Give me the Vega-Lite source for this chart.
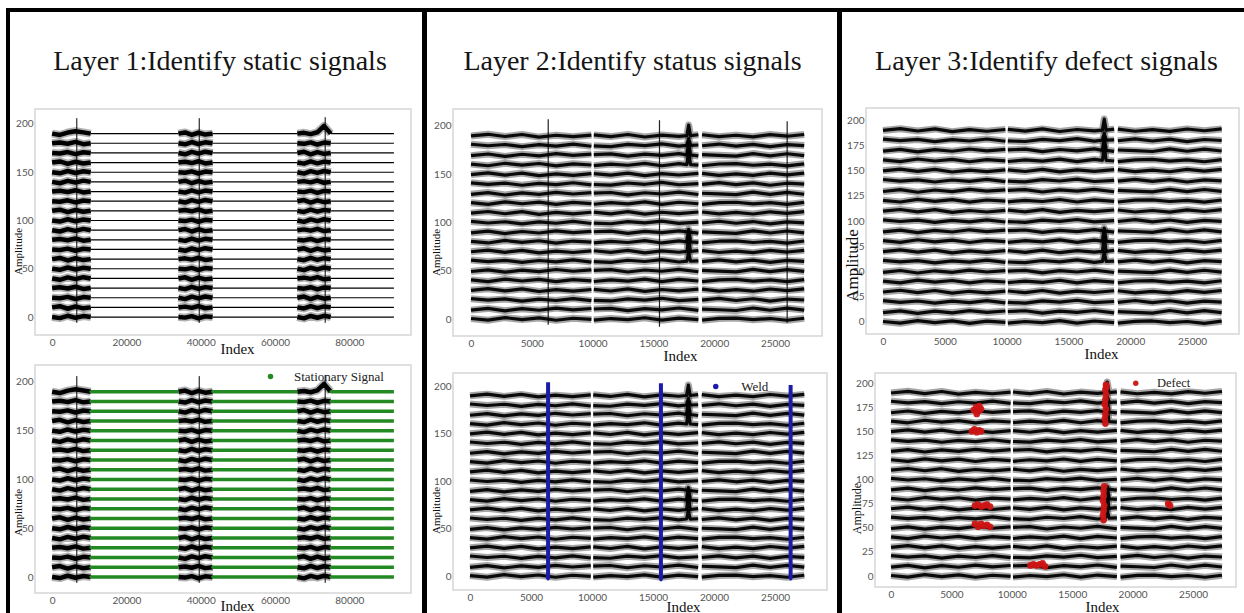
{
"$schema":"https://vega.github.io/schema/vega-lite/v6.json",
"padding":{"left":6,"top":8,"right":0,"bottom":0},
"background":"white",
"config":{
"view":{"stroke":"#d6d6d6","strokeWidth":1.5},
"axis":{"grid":false,"domain":false,"ticks":false,"labelFont":"Lato","labelFontSize":10,"labelColor":"#555555","labelPadding":2,"titleFont":"Liberation Serif","titleFontWeight":"normal","titleColor":"#111111"},
"axisX":{"titleFontSize":15,"titleBaseline":"top","titleAlign":"center"},
"axisY":{"titleFontSize":11,"titleAngle":270,"titleBaseline":"bottom","titleAlign":"center"}
},
"datasets":{
"one":[{}],
"Av":[{"x":6650,"y":-6,"y2":206},{"x":39600,"y":-6,"y2":206},{"x":73500,"y":-6,"y2":207}],
"Bv":[{"x":6350,"y":-6,"y2":207},{"x":15500,"y":-8,"y2":206},{"x":26000,"y":-4,"y2":205}],
"Bw":[{"x":6400,"y":-3,"y2":204},{"x":15650,"y":-4,"y2":203},{"x":26280,"y":-3,"y2":201}],
"D":[{"x":6850,"y":172},{"x":7050,"y":175},{"x":7250,"y":171},{"x":7450,"y":173},{"x":7100,"y":168},{"x":7300,"y":176},
{"x":6700,"y":150},{"x":6900,"y":152},{"x":7100,"y":149},{"x":7300,"y":151},{"x":7450,"y":150},
{"x":6950,"y":73},{"x":7200,"y":74},{"x":7450,"y":72},{"x":7700,"y":73},{"x":7950,"y":74},{"x":8200,"y":72},
{"x":6950,"y":54},{"x":7200,"y":51},{"x":7450,"y":54},{"x":7700,"y":52},{"x":7950,"y":53},{"x":8200,"y":51},
{"x":11550,"y":11},{"x":11800,"y":12},{"x":12050,"y":11},{"x":12300,"y":12},{"x":12550,"y":13},{"x":12750,"y":10},
{"x":17750,"y":158},{"x":17700,"y":163},{"x":17750,"y":168},{"x":17800,"y":173},{"x":17700,"y":178},{"x":17750,"y":183},{"x":17800,"y":188},{"x":17750,"y":193},{"x":17800,"y":198},{"x":17850,"y":196},
{"x":17600,"y":58},{"x":17550,"y":63},{"x":17600,"y":68},{"x":17650,"y":73},{"x":17550,"y":78},{"x":17600,"y":83},{"x":17600,"y":88},{"x":17650,"y":93},
{"x":22950,"y":75},{"x":23100,"y":73}],
"Af":[
{"x":10400,"x2":34000,"y":0},{"x":43200,"x2":66000,"y":0},{"x":75000,"x2":92000,"y":0},
{"x":10400,"x2":34000,"y":10},{"x":43200,"x2":66000,"y":10},{"x":75000,"x2":92000,"y":10},
{"x":10400,"x2":34000,"y":20},{"x":43200,"x2":66000,"y":20},{"x":75000,"x2":92000,"y":20},
{"x":10400,"x2":34000,"y":30},{"x":43200,"x2":66000,"y":30},{"x":75000,"x2":92000,"y":30},
{"x":10400,"x2":34000,"y":40},{"x":43200,"x2":66000,"y":40},{"x":75000,"x2":92000,"y":40},
{"x":10400,"x2":34000,"y":50},{"x":43200,"x2":66000,"y":50},{"x":75000,"x2":92000,"y":50},
{"x":10400,"x2":34000,"y":60},{"x":43200,"x2":66000,"y":60},{"x":75000,"x2":92000,"y":60},
{"x":10400,"x2":34000,"y":70},{"x":43200,"x2":66000,"y":70},{"x":75000,"x2":92000,"y":70},
{"x":10400,"x2":34000,"y":80},{"x":43200,"x2":66000,"y":80},{"x":75000,"x2":92000,"y":80},
{"x":10400,"x2":34000,"y":90},{"x":43200,"x2":66000,"y":90},{"x":75000,"x2":92000,"y":90},
{"x":10400,"x2":34000,"y":100},{"x":43200,"x2":66000,"y":100},{"x":75000,"x2":92000,"y":100},
{"x":10400,"x2":34000,"y":110},{"x":43200,"x2":66000,"y":110},{"x":75000,"x2":92000,"y":110},
{"x":10400,"x2":34000,"y":120},{"x":43200,"x2":66000,"y":120},{"x":75000,"x2":92000,"y":120},
{"x":10400,"x2":34000,"y":130},{"x":43200,"x2":66000,"y":130},{"x":75000,"x2":92000,"y":130},
{"x":10400,"x2":34000,"y":140},{"x":43200,"x2":66000,"y":140},{"x":75000,"x2":92000,"y":140},
{"x":10400,"x2":34000,"y":150},{"x":43200,"x2":66000,"y":150},{"x":75000,"x2":92000,"y":150},
{"x":10400,"x2":34000,"y":160},{"x":43200,"x2":66000,"y":160},{"x":75000,"x2":92000,"y":160},
{"x":10400,"x2":34000,"y":170},{"x":43200,"x2":66000,"y":170},{"x":75000,"x2":92000,"y":170},
{"x":10400,"x2":34000,"y":180},{"x":43200,"x2":66000,"y":180},{"x":75000,"x2":92000,"y":180},
{"x":10400,"x2":34000,"y":190},{"x":43200,"x2":66000,"y":190},{"x":75000,"x2":92000,"y":190}],
"A":[
{"k":"0a","x":0,"y":0},{"k":"0a","x":2100,"y":-1.1},{"k":"0a","x":4200,"y":1.3},{"k":"0a","x":6300,"y":-0.8},{"k":"0a","x":8400,"y":1},{"k":"0a","x":10400,"y":0},
{"k":"0b","x":34000,"y":0},{"k":"0b","x":35800,"y":-0.6},{"k":"0b","x":37600,"y":0.9},{"k":"0b","x":39400,"y":-1.3},{"k":"0b","x":41200,"y":0.7},{"k":"0b","x":43200,"y":0},
{"k":"0c","x":66000,"y":0},{"k":"0c","x":67800,"y":-1.4},{"k":"0c","x":69600,"y":1.1},{"k":"0c","x":71400,"y":-0.7},{"k":"0c","x":73200,"y":1.3},{"k":"0c","x":75000,"y":0},
{"k":"1a","x":0,"y":10},{"k":"1a","x":2100,"y":11.2},{"k":"1a","x":4200,"y":8.6},{"k":"1a","x":6300,"y":10.9},{"k":"1a","x":8400,"y":9},{"k":"1a","x":10400,"y":10},
{"k":"1b","x":34000,"y":10},{"k":"1b","x":35800,"y":10.8},{"k":"1b","x":37600,"y":9.5},{"k":"1b","x":39400,"y":11.4},{"k":"1b","x":41200,"y":9.1},{"k":"1b","x":43200,"y":10},
{"k":"1c","x":66000,"y":10},{"k":"1c","x":67800,"y":8.9},{"k":"1c","x":69600,"y":11.3},{"k":"1c","x":71400,"y":9.2},{"k":"1c","x":73200,"y":11},{"k":"1c","x":75000,"y":10},
{"k":"2a","x":0,"y":20},{"k":"2a","x":2100,"y":19.4},{"k":"2a","x":4200,"y":20.9},{"k":"2a","x":6300,"y":18.7},{"k":"2a","x":8400,"y":20.7},{"k":"2a","x":10400,"y":20},
{"k":"2b","x":34000,"y":20},{"k":"2b","x":35800,"y":18.6},{"k":"2b","x":37600,"y":21.1},{"k":"2b","x":39400,"y":19.3},{"k":"2b","x":41200,"y":21.3},{"k":"2b","x":43200,"y":20},
{"k":"2c","x":66000,"y":20},{"k":"2c","x":67800,"y":21.2},{"k":"2c","x":69600,"y":18.6},{"k":"2c","x":71400,"y":20.9},{"k":"2c","x":73200,"y":19},{"k":"2c","x":75000,"y":20},
{"k":"3a","x":0,"y":30},{"k":"3a","x":2100,"y":30.8},{"k":"3a","x":4200,"y":29.5},{"k":"3a","x":6300,"y":31.4},{"k":"3a","x":8400,"y":29.1},{"k":"3a","x":10400,"y":30},
{"k":"3b","x":34000,"y":30},{"k":"3b","x":35800,"y":28.9},{"k":"3b","x":37600,"y":31.3},{"k":"3b","x":39400,"y":29.2},{"k":"3b","x":41200,"y":31},{"k":"3b","x":43200,"y":30},
{"k":"3c","x":66000,"y":30},{"k":"3c","x":67800,"y":29.4},{"k":"3c","x":69600,"y":30.9},{"k":"3c","x":71400,"y":28.7},{"k":"3c","x":73200,"y":30.7},{"k":"3c","x":75000,"y":30},
{"k":"4a","x":0,"y":40},{"k":"4a","x":2100,"y":38.6},{"k":"4a","x":4200,"y":41.1},{"k":"4a","x":6300,"y":39.3},{"k":"4a","x":8400,"y":41.3},{"k":"4a","x":10400,"y":40},
{"k":"4b","x":34000,"y":40},{"k":"4b","x":35800,"y":41.2},{"k":"4b","x":37600,"y":38.6},{"k":"4b","x":39400,"y":40.9},{"k":"4b","x":41200,"y":39},{"k":"4b","x":43200,"y":40},
{"k":"4c","x":66000,"y":40},{"k":"4c","x":67800,"y":40.8},{"k":"4c","x":69600,"y":39.5},{"k":"4c","x":71400,"y":41.4},{"k":"4c","x":73200,"y":39.1},{"k":"4c","x":75000,"y":40},
{"k":"5a","x":0,"y":50},{"k":"5a","x":2100,"y":48.9},{"k":"5a","x":4200,"y":51.3},{"k":"5a","x":6300,"y":49.2},{"k":"5a","x":8400,"y":51},{"k":"5a","x":10400,"y":50},
{"k":"5b","x":34000,"y":50},{"k":"5b","x":35800,"y":49.4},{"k":"5b","x":37600,"y":50.9},{"k":"5b","x":39400,"y":48.7},{"k":"5b","x":41200,"y":50.7},{"k":"5b","x":43200,"y":50},
{"k":"5c","x":66000,"y":50},{"k":"5c","x":67800,"y":48.6},{"k":"5c","x":69600,"y":51.1},{"k":"5c","x":71400,"y":49.3},{"k":"5c","x":73200,"y":51.3},{"k":"5c","x":75000,"y":50},
{"k":"6a","x":0,"y":60},{"k":"6a","x":2100,"y":61.2},{"k":"6a","x":4200,"y":58.6},{"k":"6a","x":6300,"y":60.9},{"k":"6a","x":8400,"y":59},{"k":"6a","x":10400,"y":60},
{"k":"6b","x":34000,"y":60},{"k":"6b","x":35800,"y":60.8},{"k":"6b","x":37600,"y":59.5},{"k":"6b","x":39400,"y":61.4},{"k":"6b","x":41200,"y":59.1},{"k":"6b","x":43200,"y":60},
{"k":"6c","x":66000,"y":60},{"k":"6c","x":67800,"y":58.9},{"k":"6c","x":69600,"y":61.3},{"k":"6c","x":71400,"y":59.2},{"k":"6c","x":73200,"y":61},{"k":"6c","x":75000,"y":60},
{"k":"7a","x":0,"y":70},{"k":"7a","x":2100,"y":69.4},{"k":"7a","x":4200,"y":70.9},{"k":"7a","x":6300,"y":68.7},{"k":"7a","x":8400,"y":70.7},{"k":"7a","x":10400,"y":70},
{"k":"7b","x":34000,"y":70},{"k":"7b","x":35800,"y":68.6},{"k":"7b","x":37600,"y":71.1},{"k":"7b","x":39400,"y":69.3},{"k":"7b","x":41200,"y":71.3},{"k":"7b","x":43200,"y":70},
{"k":"7c","x":66000,"y":70},{"k":"7c","x":67800,"y":71.2},{"k":"7c","x":69600,"y":68.6},{"k":"7c","x":71400,"y":70.9},{"k":"7c","x":73200,"y":69},{"k":"7c","x":75000,"y":70},
{"k":"8a","x":0,"y":80},{"k":"8a","x":2100,"y":80.8},{"k":"8a","x":4200,"y":79.5},{"k":"8a","x":6300,"y":81.4},{"k":"8a","x":8400,"y":79.1},{"k":"8a","x":10400,"y":80},
{"k":"8b","x":34000,"y":80},{"k":"8b","x":35800,"y":78.9},{"k":"8b","x":37600,"y":81.3},{"k":"8b","x":39400,"y":79.2},{"k":"8b","x":41200,"y":81},{"k":"8b","x":43200,"y":80},
{"k":"8c","x":66000,"y":80},{"k":"8c","x":67800,"y":79.4},{"k":"8c","x":69600,"y":80.9},{"k":"8c","x":71400,"y":78.7},{"k":"8c","x":73200,"y":80.7},{"k":"8c","x":75000,"y":80},
{"k":"9a","x":0,"y":90},{"k":"9a","x":2100,"y":88.6},{"k":"9a","x":4200,"y":91.1},{"k":"9a","x":6300,"y":89.3},{"k":"9a","x":8400,"y":91.3},{"k":"9a","x":10400,"y":90},
{"k":"9b","x":34000,"y":90},{"k":"9b","x":35800,"y":91.2},{"k":"9b","x":37600,"y":88.6},{"k":"9b","x":39400,"y":90.9},{"k":"9b","x":41200,"y":89},{"k":"9b","x":43200,"y":90},
{"k":"9c","x":66000,"y":90},{"k":"9c","x":67800,"y":90.8},{"k":"9c","x":69600,"y":89.5},{"k":"9c","x":71400,"y":91.4},{"k":"9c","x":73200,"y":89.1},{"k":"9c","x":75000,"y":90},
{"k":"10a","x":0,"y":100},{"k":"10a","x":2100,"y":98.9},{"k":"10a","x":4200,"y":101.3},{"k":"10a","x":6300,"y":99.2},{"k":"10a","x":8400,"y":101},{"k":"10a","x":10400,"y":100},
{"k":"10b","x":34000,"y":100},{"k":"10b","x":35800,"y":99.4},{"k":"10b","x":37600,"y":100.9},{"k":"10b","x":39400,"y":98.7},{"k":"10b","x":41200,"y":100.7},{"k":"10b","x":43200,"y":100},
{"k":"10c","x":66000,"y":100},{"k":"10c","x":67800,"y":98.6},{"k":"10c","x":69600,"y":101.1},{"k":"10c","x":71400,"y":99.3},{"k":"10c","x":73200,"y":101.3},{"k":"10c","x":75000,"y":100},
{"k":"11a","x":0,"y":110},{"k":"11a","x":2100,"y":111.2},{"k":"11a","x":4200,"y":108.6},{"k":"11a","x":6300,"y":110.9},{"k":"11a","x":8400,"y":109},{"k":"11a","x":10400,"y":110},
{"k":"11b","x":34000,"y":110},{"k":"11b","x":35800,"y":110.8},{"k":"11b","x":37600,"y":109.5},{"k":"11b","x":39400,"y":111.4},{"k":"11b","x":41200,"y":109.1},{"k":"11b","x":43200,"y":110},
{"k":"11c","x":66000,"y":110},{"k":"11c","x":67800,"y":108.9},{"k":"11c","x":69600,"y":111.3},{"k":"11c","x":71400,"y":109.2},{"k":"11c","x":73200,"y":111},{"k":"11c","x":75000,"y":110},
{"k":"12a","x":0,"y":120},{"k":"12a","x":2100,"y":119.4},{"k":"12a","x":4200,"y":120.9},{"k":"12a","x":6300,"y":118.7},{"k":"12a","x":8400,"y":120.7},{"k":"12a","x":10400,"y":120},
{"k":"12b","x":34000,"y":120},{"k":"12b","x":35800,"y":118.6},{"k":"12b","x":37600,"y":121.1},{"k":"12b","x":39400,"y":119.3},{"k":"12b","x":41200,"y":121.3},{"k":"12b","x":43200,"y":120},
{"k":"12c","x":66000,"y":120},{"k":"12c","x":67800,"y":121.2},{"k":"12c","x":69600,"y":118.6},{"k":"12c","x":71400,"y":120.9},{"k":"12c","x":73200,"y":119},{"k":"12c","x":75000,"y":120},
{"k":"13a","x":0,"y":130},{"k":"13a","x":2100,"y":130.8},{"k":"13a","x":4200,"y":129.5},{"k":"13a","x":6300,"y":131.4},{"k":"13a","x":8400,"y":129.1},{"k":"13a","x":10400,"y":130},
{"k":"13b","x":34000,"y":130},{"k":"13b","x":35800,"y":128.9},{"k":"13b","x":37600,"y":131.3},{"k":"13b","x":39400,"y":129.2},{"k":"13b","x":41200,"y":131},{"k":"13b","x":43200,"y":130},
{"k":"13c","x":66000,"y":130},{"k":"13c","x":67800,"y":129.4},{"k":"13c","x":69600,"y":130.9},{"k":"13c","x":71400,"y":128.7},{"k":"13c","x":73200,"y":130.7},{"k":"13c","x":75000,"y":130},
{"k":"14a","x":0,"y":140},{"k":"14a","x":2100,"y":138.6},{"k":"14a","x":4200,"y":141.1},{"k":"14a","x":6300,"y":139.3},{"k":"14a","x":8400,"y":141.3},{"k":"14a","x":10400,"y":140},
{"k":"14b","x":34000,"y":140},{"k":"14b","x":35800,"y":141.2},{"k":"14b","x":37600,"y":138.6},{"k":"14b","x":39400,"y":140.9},{"k":"14b","x":41200,"y":139},{"k":"14b","x":43200,"y":140},
{"k":"14c","x":66000,"y":140},{"k":"14c","x":67800,"y":140.8},{"k":"14c","x":69600,"y":139.5},{"k":"14c","x":71400,"y":141.4},{"k":"14c","x":73200,"y":139.1},{"k":"14c","x":75000,"y":140},
{"k":"15a","x":0,"y":150},{"k":"15a","x":2100,"y":148.9},{"k":"15a","x":4200,"y":151.3},{"k":"15a","x":6300,"y":149.2},{"k":"15a","x":8400,"y":151},{"k":"15a","x":10400,"y":150},
{"k":"15b","x":34000,"y":150},{"k":"15b","x":35800,"y":149.4},{"k":"15b","x":37600,"y":150.9},{"k":"15b","x":39400,"y":148.7},{"k":"15b","x":41200,"y":150.7},{"k":"15b","x":43200,"y":150},
{"k":"15c","x":66000,"y":150},{"k":"15c","x":67800,"y":148.6},{"k":"15c","x":69600,"y":151.1},{"k":"15c","x":71400,"y":149.3},{"k":"15c","x":73200,"y":151.3},{"k":"15c","x":75000,"y":150},
{"k":"16a","x":0,"y":160},{"k":"16a","x":2100,"y":161.2},{"k":"16a","x":4200,"y":158.6},{"k":"16a","x":6300,"y":160.9},{"k":"16a","x":8400,"y":159},{"k":"16a","x":10400,"y":160},
{"k":"16b","x":34000,"y":160},{"k":"16b","x":35800,"y":160.8},{"k":"16b","x":37600,"y":159.5},{"k":"16b","x":39400,"y":161.4},{"k":"16b","x":41200,"y":159.1},{"k":"16b","x":43200,"y":160},
{"k":"16c","x":66000,"y":160},{"k":"16c","x":67800,"y":158.9},{"k":"16c","x":69600,"y":161.3},{"k":"16c","x":71400,"y":159.2},{"k":"16c","x":73200,"y":161},{"k":"16c","x":75000,"y":160},
{"k":"17a","x":0,"y":170},{"k":"17a","x":2100,"y":169.4},{"k":"17a","x":4200,"y":170.9},{"k":"17a","x":6300,"y":168.7},{"k":"17a","x":8400,"y":170.7},{"k":"17a","x":10400,"y":170},
{"k":"17b","x":34000,"y":170},{"k":"17b","x":35800,"y":168.6},{"k":"17b","x":37600,"y":171.1},{"k":"17b","x":39400,"y":169.3},{"k":"17b","x":41200,"y":171.3},{"k":"17b","x":43200,"y":170},
{"k":"17c","x":66000,"y":170},{"k":"17c","x":67800,"y":171.2},{"k":"17c","x":69600,"y":168.6},{"k":"17c","x":71400,"y":170.9},{"k":"17c","x":73200,"y":169},{"k":"17c","x":75000,"y":170},
{"k":"18a","x":0,"y":180},{"k":"18a","x":2100,"y":180.8},{"k":"18a","x":4200,"y":179.5},{"k":"18a","x":6300,"y":181.4},{"k":"18a","x":8400,"y":179.1},{"k":"18a","x":10400,"y":180},
{"k":"18b","x":34000,"y":180},{"k":"18b","x":35800,"y":178.9},{"k":"18b","x":37600,"y":181.3},{"k":"18b","x":39400,"y":179.2},{"k":"18b","x":41200,"y":181},{"k":"18b","x":43200,"y":180},
{"k":"18c","x":66000,"y":180},{"k":"18c","x":67800,"y":179.4},{"k":"18c","x":69600,"y":180.9},{"k":"18c","x":71400,"y":178.7},{"k":"18c","x":73200,"y":180.7},{"k":"18c","x":75000,"y":180},
{"k":"19a","x":0,"y":190},{"k":"19a","x":2100,"y":188.6},{"k":"19a","x":4200,"y":191.1},{"k":"19a","x":6300,"y":192.5},{"k":"19a","x":8400,"y":191.3},{"k":"19a","x":10400,"y":190},
{"k":"19b","x":34000,"y":190},{"k":"19b","x":35800,"y":191.2},{"k":"19b","x":37600,"y":188.6},{"k":"19b","x":39400,"y":190.9},{"k":"19b","x":41200,"y":189},{"k":"19b","x":43200,"y":190},
{"k":"19c","x":66000,"y":190},{"k":"19c","x":67800,"y":190.8},{"k":"19c","x":69600,"y":189.5},{"k":"19c","x":71400,"y":191.4},{"k":"19c","x":73200,"y":198},{"k":"19c","x":75000,"y":190}],
"B":[
{"k":"0a","x":0,"y":0.5},{"k":"0a","x":1400,"y":-1.2},{"k":"0a","x":2800,"y":1.4},{"k":"0a","x":4200,"y":-0.6},{"k":"0a","x":5600,"y":1.1},{"k":"0a","x":7000,"y":-1.3},{"k":"0a","x":8400,"y":0.8},{"k":"0a","x":9900,"y":-0.4},
{"k":"0b","x":10100,"y":-1.1},{"k":"0b","x":11500,"y":0.5},{"k":"0b","x":12900,"y":-0.7},{"k":"0b","x":14300,"y":1.3},{"k":"0b","x":15700,"y":-1.2},{"k":"0b","x":17100,"y":1},{"k":"0b","x":18700,"y":-0.6},
{"k":"0c","x":19000,"y":-1.2},{"k":"0c","x":20400,"y":0.6},{"k":"0c","x":21800,"y":1},{"k":"0c","x":23200,"y":-0.7},{"k":"0c","x":24600,"y":0.5},{"k":"0c","x":26000,"y":-1.3},{"k":"0c","x":27400,"y":0.8},
{"k":"1a","x":0,"y":9.2},{"k":"1a","x":1400,"y":11},{"k":"1a","x":2800,"y":8.5},{"k":"1a","x":4200,"y":10.7},{"k":"1a","x":5600,"y":9.1},{"k":"1a","x":7000,"y":11.3},{"k":"1a","x":8400,"y":9.5},{"k":"1a","x":9900,"y":10.9},
{"k":"1b","x":10100,"y":10.4},{"k":"1b","x":11500,"y":11.1},{"k":"1b","x":12900,"y":8.7},{"k":"1b","x":14300,"y":10.8},{"k":"1b","x":15700,"y":9.5},{"k":"1b","x":17100,"y":11.4},{"k":"1b","x":18700,"y":9},
{"k":"1c","x":19000,"y":10.3},{"k":"1c","x":20400,"y":9.6},{"k":"1c","x":21800,"y":8.8},{"k":"1c","x":23200,"y":11.4},{"k":"1c","x":24600,"y":9.1},{"k":"1c","x":26000,"y":11.2},{"k":"1c","x":27400,"y":9.3},
{"k":"2a","x":0,"y":21.1},{"k":"2a","x":1400,"y":19.5},{"k":"2a","x":2800,"y":20.8},{"k":"2a","x":4200,"y":18.6},{"k":"2a","x":5600,"y":20.6},{"k":"2a","x":7000,"y":19.2},{"k":"2a","x":8400,"y":21.2},{"k":"2a","x":9900,"y":19},
{"k":"2b","x":10100,"y":19.4},{"k":"2b","x":11500,"y":18.7},{"k":"2b","x":12900,"y":20.9},{"k":"2b","x":14300,"y":19.6},{"k":"2b","x":15700,"y":21.5},{"k":"2b","x":17100,"y":19.1},{"k":"2b","x":18700,"y":20.3},
{"k":"2c","x":19000,"y":19.5},{"k":"2c","x":20400,"y":21.3},{"k":"2c","x":21800,"y":19.2},{"k":"2c","x":23200,"y":21},{"k":"2c","x":24600,"y":18.6},{"k":"2c","x":26000,"y":20.7},{"k":"2c","x":27400,"y":19.7},
{"k":"3a","x":0,"y":29.7},{"k":"3a","x":1400,"y":31.4},{"k":"3a","x":2800,"y":29.1},{"k":"3a","x":4200,"y":31.2},{"k":"3a","x":5600,"y":28.5},{"k":"3a","x":7000,"y":30.4},{"k":"3a","x":8400,"y":28.9},{"k":"3a","x":9900,"y":30.6},
{"k":"3b","x":10100,"y":30.7},{"k":"3b","x":11500,"y":29},{"k":"3b","x":12900,"y":31.2},{"k":"3b","x":14300,"y":28.6},{"k":"3b","x":15700,"y":30.6},{"k":"3b","x":17100,"y":29.2},{"k":"3b","x":18700,"y":30.9},
{"k":"3c","x":19000,"y":30.9},{"k":"3c","x":20400,"y":28.9},{"k":"3c","x":21800,"y":30.4},{"k":"3c","x":23200,"y":28.8},{"k":"3c","x":24600,"y":31.1},{"k":"3c","x":26000,"y":29.4},{"k":"3c","x":27400,"y":31.2},
{"k":"4a","x":0,"y":40.5},{"k":"4a","x":1400,"y":38.8},{"k":"4a","x":2800,"y":41.4},{"k":"4a","x":4200,"y":39.4},{"k":"4a","x":5600,"y":41.1},{"k":"4a","x":7000,"y":38.7},{"k":"4a","x":8400,"y":40.8},{"k":"4a","x":9900,"y":39.6},
{"k":"4b","x":10100,"y":38.9},{"k":"4b","x":11500,"y":40.5},{"k":"4b","x":12900,"y":39.3},{"k":"4b","x":14300,"y":41.3},{"k":"4b","x":15700,"y":38.8},{"k":"4b","x":17100,"y":41},{"k":"4b","x":18700,"y":39.4},
{"k":"4c","x":19000,"y":38.8},{"k":"4c","x":20400,"y":40.6},{"k":"4c","x":21800,"y":41},{"k":"4c","x":23200,"y":39.3},{"k":"4c","x":24600,"y":40.5},{"k":"4c","x":26000,"y":38.7},{"k":"4c","x":27400,"y":40.8},
{"k":"5a","x":0,"y":49.2},{"k":"5a","x":1400,"y":51},{"k":"5a","x":2800,"y":48.5},{"k":"5a","x":4200,"y":50.7},{"k":"5a","x":5600,"y":49.1},{"k":"5a","x":7000,"y":51.3},{"k":"5a","x":8400,"y":49.5},{"k":"5a","x":9900,"y":50.9},
{"k":"5b","x":10100,"y":50.4},{"k":"5b","x":11500,"y":51.1},{"k":"5b","x":12900,"y":48.7},{"k":"5b","x":14300,"y":50.8},{"k":"5b","x":15700,"y":49.5},{"k":"5b","x":17100,"y":51.4},{"k":"5b","x":18700,"y":49},
{"k":"5c","x":19000,"y":50.3},{"k":"5c","x":20400,"y":49.6},{"k":"5c","x":21800,"y":48.8},{"k":"5c","x":23200,"y":51.4},{"k":"5c","x":24600,"y":49.1},{"k":"5c","x":26000,"y":51.2},{"k":"5c","x":27400,"y":49.3},
{"k":"6a","x":0,"y":61.1},{"k":"6a","x":1400,"y":59.5},{"k":"6a","x":2800,"y":60.8},{"k":"6a","x":4200,"y":58.6},{"k":"6a","x":5600,"y":60.6},{"k":"6a","x":7000,"y":59.2},{"k":"6a","x":8400,"y":61.2},{"k":"6a","x":9900,"y":59},
{"k":"6b","x":10100,"y":59.4},{"k":"6b","x":11500,"y":58.7},{"k":"6b","x":12900,"y":60.9},{"k":"6b","x":14300,"y":59.6},{"k":"6b","x":15700,"y":61.5},{"k":"6b","x":17100,"y":59.1},{"k":"6b","x":17750,"y":60},{"k":"6b","x":17900,"y":69},{"k":"6b","x":18050,"y":60},{"k":"6b","x":18700,"y":60.3},
{"k":"6c","x":19000,"y":59.5},{"k":"6c","x":20400,"y":61.3},{"k":"6c","x":21800,"y":59.2},{"k":"6c","x":23200,"y":61},{"k":"6c","x":24600,"y":58.6},{"k":"6c","x":26000,"y":60.7},{"k":"6c","x":27400,"y":59.7},
{"k":"7a","x":0,"y":69.7},{"k":"7a","x":1400,"y":71.4},{"k":"7a","x":2800,"y":69.1},{"k":"7a","x":4200,"y":71.2},{"k":"7a","x":5600,"y":68.5},{"k":"7a","x":7000,"y":70.4},{"k":"7a","x":8400,"y":68.9},{"k":"7a","x":9900,"y":70.6},
{"k":"7b","x":10100,"y":70.7},{"k":"7b","x":11500,"y":69},{"k":"7b","x":12900,"y":71.2},{"k":"7b","x":14300,"y":68.6},{"k":"7b","x":15700,"y":70.6},{"k":"7b","x":17100,"y":69.2},{"k":"7b","x":17750,"y":70},{"k":"7b","x":17900,"y":84},{"k":"7b","x":18050,"y":70},{"k":"7b","x":18700,"y":70.9},
{"k":"7c","x":19000,"y":70.9},{"k":"7c","x":20400,"y":68.9},{"k":"7c","x":21800,"y":70.4},{"k":"7c","x":23200,"y":68.8},{"k":"7c","x":24600,"y":71.1},{"k":"7c","x":26000,"y":69.4},{"k":"7c","x":27400,"y":71.2},
{"k":"8a","x":0,"y":80.5},{"k":"8a","x":1400,"y":78.8},{"k":"8a","x":2800,"y":81.4},{"k":"8a","x":4200,"y":79.4},{"k":"8a","x":5600,"y":81.1},{"k":"8a","x":7000,"y":78.7},{"k":"8a","x":8400,"y":80.8},{"k":"8a","x":9900,"y":79.6},
{"k":"8b","x":10100,"y":78.9},{"k":"8b","x":11500,"y":80.5},{"k":"8b","x":12900,"y":79.3},{"k":"8b","x":14300,"y":81.3},{"k":"8b","x":15700,"y":78.8},{"k":"8b","x":17100,"y":81},{"k":"8b","x":17750,"y":80},{"k":"8b","x":17900,"y":93},{"k":"8b","x":18050,"y":80},{"k":"8b","x":18700,"y":79.4},
{"k":"8c","x":19000,"y":78.8},{"k":"8c","x":20400,"y":80.6},{"k":"8c","x":21800,"y":81},{"k":"8c","x":23200,"y":79.3},{"k":"8c","x":24600,"y":80.5},{"k":"8c","x":26000,"y":78.7},{"k":"8c","x":27400,"y":80.8},
{"k":"9a","x":0,"y":89.2},{"k":"9a","x":1400,"y":91},{"k":"9a","x":2800,"y":88.5},{"k":"9a","x":4200,"y":90.7},{"k":"9a","x":5600,"y":89.1},{"k":"9a","x":7000,"y":91.3},{"k":"9a","x":8400,"y":89.5},{"k":"9a","x":9900,"y":90.9},
{"k":"9b","x":10100,"y":90.4},{"k":"9b","x":11500,"y":91.1},{"k":"9b","x":12900,"y":88.7},{"k":"9b","x":14300,"y":90.8},{"k":"9b","x":15700,"y":89.5},{"k":"9b","x":17100,"y":91.4},{"k":"9b","x":18700,"y":89},
{"k":"9c","x":19000,"y":90.3},{"k":"9c","x":20400,"y":89.6},{"k":"9c","x":21800,"y":88.8},{"k":"9c","x":23200,"y":91.4},{"k":"9c","x":24600,"y":89.1},{"k":"9c","x":26000,"y":91.2},{"k":"9c","x":27400,"y":89.3},
{"k":"10a","x":0,"y":101.1},{"k":"10a","x":1400,"y":99.5},{"k":"10a","x":2800,"y":100.8},{"k":"10a","x":4200,"y":98.6},{"k":"10a","x":5600,"y":100.6},{"k":"10a","x":7000,"y":99.2},{"k":"10a","x":8400,"y":101.2},{"k":"10a","x":9900,"y":99},
{"k":"10b","x":10100,"y":99.4},{"k":"10b","x":11500,"y":98.7},{"k":"10b","x":12900,"y":100.9},{"k":"10b","x":14300,"y":99.6},{"k":"10b","x":15700,"y":101.5},{"k":"10b","x":17100,"y":99.1},{"k":"10b","x":18700,"y":100.3},
{"k":"10c","x":19000,"y":99.5},{"k":"10c","x":20400,"y":101.3},{"k":"10c","x":21800,"y":99.2},{"k":"10c","x":23200,"y":101},{"k":"10c","x":24600,"y":98.6},{"k":"10c","x":26000,"y":100.7},{"k":"10c","x":27400,"y":99.7},
{"k":"11a","x":0,"y":109.7},{"k":"11a","x":1400,"y":111.4},{"k":"11a","x":2800,"y":109.1},{"k":"11a","x":4200,"y":111.2},{"k":"11a","x":5600,"y":108.5},{"k":"11a","x":7000,"y":110.4},{"k":"11a","x":8400,"y":108.9},{"k":"11a","x":9900,"y":110.6},
{"k":"11b","x":10100,"y":110.7},{"k":"11b","x":11500,"y":109},{"k":"11b","x":12900,"y":111.2},{"k":"11b","x":14300,"y":108.6},{"k":"11b","x":15700,"y":110.6},{"k":"11b","x":17100,"y":109.2},{"k":"11b","x":18700,"y":110.9},
{"k":"11c","x":19000,"y":110.9},{"k":"11c","x":20400,"y":108.9},{"k":"11c","x":21800,"y":110.4},{"k":"11c","x":23200,"y":108.8},{"k":"11c","x":24600,"y":111.1},{"k":"11c","x":26000,"y":109.4},{"k":"11c","x":27400,"y":111.2},
{"k":"12a","x":0,"y":120.5},{"k":"12a","x":1400,"y":118.8},{"k":"12a","x":2800,"y":121.4},{"k":"12a","x":4200,"y":119.4},{"k":"12a","x":5600,"y":121.1},{"k":"12a","x":7000,"y":118.7},{"k":"12a","x":8400,"y":120.8},{"k":"12a","x":9900,"y":119.6},
{"k":"12b","x":10100,"y":118.9},{"k":"12b","x":11500,"y":120.5},{"k":"12b","x":12900,"y":119.3},{"k":"12b","x":14300,"y":121.3},{"k":"12b","x":15700,"y":118.8},{"k":"12b","x":17100,"y":121},{"k":"12b","x":18700,"y":119.4},
{"k":"12c","x":19000,"y":118.8},{"k":"12c","x":20400,"y":120.6},{"k":"12c","x":21800,"y":121},{"k":"12c","x":23200,"y":119.3},{"k":"12c","x":24600,"y":120.5},{"k":"12c","x":26000,"y":118.7},{"k":"12c","x":27400,"y":120.8},
{"k":"13a","x":0,"y":129.2},{"k":"13a","x":1400,"y":131},{"k":"13a","x":2800,"y":128.5},{"k":"13a","x":4200,"y":130.7},{"k":"13a","x":5600,"y":129.1},{"k":"13a","x":7000,"y":131.3},{"k":"13a","x":8400,"y":129.5},{"k":"13a","x":9900,"y":130.9},
{"k":"13b","x":10100,"y":130.4},{"k":"13b","x":11500,"y":131.1},{"k":"13b","x":12900,"y":128.7},{"k":"13b","x":14300,"y":130.8},{"k":"13b","x":15700,"y":129.5},{"k":"13b","x":17100,"y":131.4},{"k":"13b","x":18700,"y":129},
{"k":"13c","x":19000,"y":130.3},{"k":"13c","x":20400,"y":129.6},{"k":"13c","x":21800,"y":128.8},{"k":"13c","x":23200,"y":131.4},{"k":"13c","x":24600,"y":129.1},{"k":"13c","x":26000,"y":131.2},{"k":"13c","x":27400,"y":129.3},
{"k":"14a","x":0,"y":141.1},{"k":"14a","x":1400,"y":139.5},{"k":"14a","x":2800,"y":140.8},{"k":"14a","x":4200,"y":138.6},{"k":"14a","x":5600,"y":140.6},{"k":"14a","x":7000,"y":139.2},{"k":"14a","x":8400,"y":141.2},{"k":"14a","x":9900,"y":139},
{"k":"14b","x":10100,"y":139.4},{"k":"14b","x":11500,"y":138.7},{"k":"14b","x":12900,"y":140.9},{"k":"14b","x":14300,"y":139.6},{"k":"14b","x":15700,"y":141.5},{"k":"14b","x":17100,"y":139.1},{"k":"14b","x":18700,"y":140.3},
{"k":"14c","x":19000,"y":139.5},{"k":"14c","x":20400,"y":141.3},{"k":"14c","x":21800,"y":139.2},{"k":"14c","x":23200,"y":141},{"k":"14c","x":24600,"y":138.6},{"k":"14c","x":26000,"y":140.7},{"k":"14c","x":27400,"y":139.7},
{"k":"15a","x":0,"y":149.7},{"k":"15a","x":1400,"y":151.4},{"k":"15a","x":2800,"y":149.1},{"k":"15a","x":4200,"y":151.2},{"k":"15a","x":5600,"y":148.5},{"k":"15a","x":7000,"y":150.4},{"k":"15a","x":8400,"y":148.9},{"k":"15a","x":9900,"y":150.6},
{"k":"15b","x":10100,"y":150.7},{"k":"15b","x":11500,"y":149},{"k":"15b","x":12900,"y":151.2},{"k":"15b","x":14300,"y":148.6},{"k":"15b","x":15700,"y":150.6},{"k":"15b","x":17100,"y":149.2},{"k":"15b","x":18700,"y":150.9},
{"k":"15c","x":19000,"y":150.9},{"k":"15c","x":20400,"y":148.9},{"k":"15c","x":21800,"y":150.4},{"k":"15c","x":23200,"y":148.8},{"k":"15c","x":24600,"y":151.1},{"k":"15c","x":26000,"y":149.4},{"k":"15c","x":27400,"y":151.2},
{"k":"16a","x":0,"y":160.5},{"k":"16a","x":1400,"y":158.8},{"k":"16a","x":2800,"y":161.4},{"k":"16a","x":4200,"y":159.4},{"k":"16a","x":5600,"y":161.1},{"k":"16a","x":7000,"y":158.7},{"k":"16a","x":8400,"y":160.8},{"k":"16a","x":9900,"y":159.6},
{"k":"16b","x":10100,"y":158.9},{"k":"16b","x":11500,"y":160.5},{"k":"16b","x":12900,"y":159.3},{"k":"16b","x":14300,"y":161.3},{"k":"16b","x":15700,"y":158.8},{"k":"16b","x":17100,"y":161},{"k":"16b","x":17750,"y":160},{"k":"16b","x":17900,"y":174},{"k":"16b","x":18050,"y":160},{"k":"16b","x":18700,"y":159.4},
{"k":"16c","x":19000,"y":158.8},{"k":"16c","x":20400,"y":160.6},{"k":"16c","x":21800,"y":161},{"k":"16c","x":23200,"y":159.3},{"k":"16c","x":24600,"y":160.5},{"k":"16c","x":26000,"y":158.7},{"k":"16c","x":27400,"y":160.8},
{"k":"17a","x":0,"y":169.2},{"k":"17a","x":1400,"y":171},{"k":"17a","x":2800,"y":168.5},{"k":"17a","x":4200,"y":170.7},{"k":"17a","x":5600,"y":169.1},{"k":"17a","x":7000,"y":171.3},{"k":"17a","x":8400,"y":169.5},{"k":"17a","x":9900,"y":170.9},
{"k":"17b","x":10100,"y":170.4},{"k":"17b","x":11500,"y":171.1},{"k":"17b","x":12900,"y":168.7},{"k":"17b","x":14300,"y":170.8},{"k":"17b","x":15700,"y":169.5},{"k":"17b","x":17100,"y":171.4},{"k":"17b","x":17750,"y":170},{"k":"17b","x":17900,"y":182},{"k":"17b","x":18050,"y":170},{"k":"17b","x":18700,"y":169},
{"k":"17c","x":19000,"y":170.3},{"k":"17c","x":20400,"y":169.6},{"k":"17c","x":21800,"y":168.8},{"k":"17c","x":23200,"y":171.4},{"k":"17c","x":24600,"y":169.1},{"k":"17c","x":26000,"y":171.2},{"k":"17c","x":27400,"y":169.3},
{"k":"18a","x":0,"y":181.1},{"k":"18a","x":1400,"y":179.5},{"k":"18a","x":2800,"y":180.8},{"k":"18a","x":4200,"y":178.6},{"k":"18a","x":5600,"y":180.6},{"k":"18a","x":7000,"y":179.2},{"k":"18a","x":8400,"y":181.2},{"k":"18a","x":9900,"y":179},
{"k":"18b","x":10100,"y":179.4},{"k":"18b","x":11500,"y":178.7},{"k":"18b","x":12900,"y":180.9},{"k":"18b","x":14300,"y":179.6},{"k":"18b","x":15700,"y":181.5},{"k":"18b","x":17100,"y":179.1},{"k":"18b","x":17750,"y":180},{"k":"18b","x":17900,"y":187},{"k":"18b","x":18050,"y":180},{"k":"18b","x":18700,"y":180.3},
{"k":"18c","x":19000,"y":179.5},{"k":"18c","x":20400,"y":181.3},{"k":"18c","x":21800,"y":179.2},{"k":"18c","x":23200,"y":181},{"k":"18c","x":24600,"y":178.6},{"k":"18c","x":26000,"y":180.7},{"k":"18c","x":27400,"y":179.7},
{"k":"19a","x":0,"y":189.7},{"k":"19a","x":1400,"y":191.4},{"k":"19a","x":2800,"y":189.1},{"k":"19a","x":4200,"y":191.2},{"k":"19a","x":5600,"y":188.5},{"k":"19a","x":7000,"y":190.4},{"k":"19a","x":8400,"y":188.9},{"k":"19a","x":9900,"y":190.6},
{"k":"19b","x":10100,"y":190.7},{"k":"19b","x":11500,"y":189},{"k":"19b","x":12900,"y":191.2},{"k":"19b","x":14300,"y":188.6},{"k":"19b","x":15700,"y":190.6},{"k":"19b","x":17100,"y":189.2},{"k":"19b","x":17750,"y":190},{"k":"19b","x":17900,"y":201},{"k":"19b","x":18050,"y":190},{"k":"19b","x":18700,"y":190.9},
{"k":"19c","x":19000,"y":190.9},{"k":"19c","x":20400,"y":188.9},{"k":"19c","x":21800,"y":190.4},{"k":"19c","x":23200,"y":188.8},{"k":"19c","x":24600,"y":191.1},{"k":"19c","x":26000,"y":189.4},{"k":"19c","x":27400,"y":191.2}]
},
"bounds":"flush",
"spacing":0,
"resolve":{"scale":{"color":"independent"},"legend":{"color":"independent"}},
"vconcat":[
{"width":1238,"height":4,"data":{"name":"one"},"mark":{"type":"point","size":0,"strokeWidth":0,"opacity":0},"view":{"fill":"black","stroke":null}},
{"spacing":0,
"resolve":{"scale":{"color":"independent"},"legend":{"color":"independent"}},
"hconcat":[
{"width":4,"height":601,"data":{"name":"one"},"mark":{"type":"point","size":0,"strokeWidth":0,"opacity":0},"view":{"fill":"black","stroke":null}},
{"width":1,"height":10,"data":{"name":"one"},"mark":{"type":"point","size":0,"strokeWidth":0,"opacity":0},"view":{"stroke":null}},
{"bounds":"flush","spacing":30,
"resolve":{"scale":{"color":"independent"},"legend":{"color":"independent"}},
"vconcat":[
{"width":10,"height":67,"data":{"name":"one"},"mark":{"type":"point","size":0,"strokeWidth":0,"opacity":0},"view":{"stroke":null}},
{"width":376,"height":226,
"title":{"text":"Layer 1:Identify static signals","font":"Liberation Serif","fontSize":28,"fontWeight":"normal","color":"#151515","baseline":"alphabetic","offset":11,"dx":-3},
"encoding":{
"x":{"field":"x","type":"quantitative","scale":{"domain":[-4600,96600],"nice":false,"zero":false},"axis":{"values":[0,20000,40000,60000,80000],"format":"d","title":"Index","titleX":202,"titleY":6}},
"y":{"field":"y","type":"quantitative","scale":{"domain":[-18.6,215.5],"nice":false,"zero":false},"axis":{"values":[0,50,100,150,200],"title":"Amplitude","titleX":-12,"titleY":142}}},
"layer":[
{"data":{"name":"Af"},"mark":{"type":"rule","color":"black","strokeWidth":1.2},"encoding":{"x2":{"field":"x2"}}},
{"data":{"name":"Av"},"mark":{"type":"rule","color":"black","strokeWidth":1},"encoding":{"y2":{"field":"y2"}}},
{"data":{"name":"A"},"mark":{"type":"line","color":"black","strokeWidth":8,"opacity":0.3,"strokeJoin":"round"},"encoding":{"detail":{"field":"k","type":"nominal"}}},
{"data":{"name":"A"},"mark":{"type":"line","color":"black","strokeWidth":4.5,"strokeJoin":"round"},"encoding":{"detail":{"field":"k","type":"nominal"}}}
]},
{"width":376,"height":228,
"encoding":{
"x":{"field":"x","type":"quantitative","scale":{"domain":[-4600,96600],"nice":false,"zero":false},"axis":{"values":[0,20000,40000,60000,80000],"format":"d","title":"Index","titleX":202,"titleY":5}},
"y":{"field":"y","type":"quantitative","scale":{"domain":[-16.4,217.4],"nice":false,"zero":false},"axis":{"values":[0,50,100,150,200],"title":"Amplitude","titleX":-12,"titleY":147}}},
"layer":[
{"data":{"name":"Av"},"mark":{"type":"rule","color":"black","strokeWidth":1},"encoding":{"y2":{"field":"y2"}}},
{"data":{"name":"A"},"mark":{"type":"line","color":"black","strokeWidth":8,"opacity":0.3,"strokeJoin":"round"},"encoding":{"detail":{"field":"k","type":"nominal"}}},
{"data":{"name":"A"},"mark":{"type":"line","color":"black","strokeWidth":4.5,"strokeJoin":"round"},"encoding":{"detail":{"field":"k","type":"nominal"}}},
{"data":{"name":"Af"},"mark":{"type":"rule","color":"#238a23","strokeWidth":3.5},"encoding":{"x2":{"field":"x2"}}},
{"data":{"name":"Af"},"mark":{"type":"point","filled":true,"size":8,"opacity":1},"encoding":{"color":{"datum":"Stationary Signal","scale":{"range":["#238a23"]},"legend":{"title":null,"orient":"none","legendX":229,"legendY":5,"padding":0,"labelFont":"Liberation Serif","labelFontSize":13,"labelColor":"#222222","symbolSize":30,"labelOffset":17}}}}
]}
]},
{"width":9.25,"height":10,"data":{"name":"one"},"mark":{"type":"point","size":0,"strokeWidth":0,"opacity":0},"view":{"stroke":null}},
{"width":5,"height":601,"data":{"name":"one"},"mark":{"type":"point","size":0,"strokeWidth":0,"opacity":0},"view":{"fill":"black","stroke":null}},
{"width":1.3,"height":10,"data":{"name":"one"},"mark":{"type":"point","size":0,"strokeWidth":0,"opacity":0},"view":{"stroke":null}},
{"bounds":"flush","spacing":37,
"resolve":{"scale":{"color":"independent"},"legend":{"color":"independent"}},
"vconcat":[
{"width":10,"height":60,"data":{"name":"one"},"mark":{"type":"point","size":0,"strokeWidth":0,"opacity":0},"view":{"stroke":null}},
{"width":369,"height":227,
"title":{"text":"Layer 2:Identify status signals","font":"Liberation Serif","fontSize":28,"fontWeight":"normal","color":"#151515","baseline":"alphabetic","offset":11,"dx":-5},
"encoding":{
"x":{"field":"x","type":"quantitative","scale":{"domain":[-1480,28865],"nice":false,"zero":false},"axis":{"values":[0,5000,10000,15000,20000,25000],"format":"d","title":"Index","titleX":227,"titleY":12}},
"y":{"field":"y","type":"quantitative","scale":{"domain":[-17.6,217.6],"nice":false,"zero":false},"axis":{"values":[0,50,100,150,200],"title":"Amplitude","titleX":-11.5,"titleY":143}}},
"layer":[
{"data":{"name":"Bv"},"mark":{"type":"rule","color":"#222222","strokeWidth":1.2},"encoding":{"y2":{"field":"y2"}}},
{"data":{"name":"B"},"mark":{"type":"line","color":"black","strokeWidth":7,"opacity":0.35,"strokeJoin":"round"},"encoding":{"detail":{"field":"k","type":"nominal"}}},
{"data":{"name":"B"},"mark":{"type":"line","color":"black","strokeWidth":3.2,"opacity":0.95,"strokeJoin":"round"},"encoding":{"detail":{"field":"k","type":"nominal"}}}
]},
{"width":374,"height":217,
"encoding":{
"x":{"field":"x","type":"quantitative","scale":{"domain":[-1393,29262],"nice":false,"zero":false},"axis":{"values":[0,5000,10000,15000,20000,25000],"format":"d","title":"Index","titleX":230,"titleY":9}},
"y":{"field":"y","type":"quantitative","scale":{"domain":[-14.7,213.7],"nice":false,"zero":false},"axis":{"values":[0,50,100,150,200],"title":"Amplitude","titleX":-11.5,"titleY":137}}},
"layer":[
{"data":{"name":"B"},"mark":{"type":"line","color":"black","strokeWidth":7,"opacity":0.35,"strokeJoin":"round"},"encoding":{"detail":{"field":"k","type":"nominal"}}},
{"data":{"name":"B"},"mark":{"type":"line","color":"black","strokeWidth":3.2,"opacity":0.95,"strokeJoin":"round"},"encoding":{"detail":{"field":"k","type":"nominal"}}},
{"data":{"name":"Bw"},"mark":{"type":"rule","color":"#1c1ca8","strokeWidth":4},"encoding":{"y2":{"field":"y2"}}},
{"data":{"name":"Bw"},"mark":{"type":"point","filled":true,"size":10,"opacity":1},"encoding":{"color":{"datum":"Weld","scale":{"range":["#1c1ca8"]},"legend":{"title":null,"orient":"none","legendX":256.25,"legendY":7,"padding":0,"labelFont":"Liberation Serif","labelFontSize":13,"labelColor":"#222222","symbolSize":30,"labelOffset":19}}}}
]}
]},
{"width":8.25,"height":10,"data":{"name":"one"},"mark":{"type":"point","size":0,"strokeWidth":0,"opacity":0},"view":{"stroke":null}},
{"width":5,"height":601,"data":{"name":"one"},"mark":{"type":"point","size":0,"strokeWidth":0,"opacity":0},"view":{"fill":"black","stroke":null}},
{"bounds":"flush","spacing":39,
"resolve":{"scale":{"color":"independent"},"legend":{"color":"independent"}},
"vconcat":[
{"width":10,"height":57,"data":{"name":"one"},"mark":{"type":"point","size":0,"strokeWidth":0,"opacity":0},"view":{"stroke":null}},
{"width":373,"height":226,
"title":{"text":"Layer 3:Identify defect signals","font":"Liberation Serif","fontSize":28,"fontWeight":"normal","color":"#151515","baseline":"alphabetic","offset":10,"dx":-6},
"encoding":{
"x":{"field":"x","type":"quantitative","scale":{"domain":[-1375,28800],"nice":false,"zero":false},"axis":{"values":[0,5000,10000,15000,20000,25000],"format":"d","title":"Index","titleX":235,"titleY":12}},
"y":{"field":"y","type":"quantitative","scale":{"domain":[-11.9,211.9],"nice":false,"zero":false},"axis":{"values":[0,25,50,75,100,125,150,175,200],"title":"Amplitude","titleX":-4.6,"titleY":157,"titleFontSize":17}}},
"layer":[
{"data":{"name":"B"},"mark":{"type":"line","color":"black","strokeWidth":7,"opacity":0.35,"strokeJoin":"round"},"encoding":{"detail":{"field":"k","type":"nominal"}}},
{"data":{"name":"B"},"mark":{"type":"line","color":"black","strokeWidth":3.2,"opacity":0.95,"strokeJoin":"round"},"encoding":{"detail":{"field":"k","type":"nominal"}}}
]},
{"bounds":"flush","spacing":0,
"resolve":{"scale":{"color":"independent"},"legend":{"color":"independent"}},
"hconcat":[
{"width":9,"height":10,"data":{"name":"one"},"mark":{"type":"point","size":0,"strokeWidth":0,"opacity":0},"view":{"stroke":null}},
{"width":361,"height":214,
"encoding":{
"x":{"field":"x","type":"quantitative","scale":{"domain":[-1325,28560],"nice":false,"zero":false},"axis":{"values":[0,5000,10000,15000,20000,25000],"format":"d","title":"Index","titleX":227,"titleY":12}},
"y":{"field":"y","type":"quantitative","scale":{"domain":[-11.4,210.4],"nice":false,"zero":false},"axis":{"values":[0,25,50,75,100,125,150,175,200],"title":"Amplitude","titleX":-12,"titleY":135,"titleFontSize":12}}},
"layer":[
{"data":{"name":"B"},"mark":{"type":"line","color":"black","strokeWidth":7,"opacity":0.35,"strokeJoin":"round"},"encoding":{"detail":{"field":"k","type":"nominal"}}},
{"data":{"name":"B"},"mark":{"type":"line","color":"black","strokeWidth":3.2,"opacity":0.95,"strokeJoin":"round"},"encoding":{"detail":{"field":"k","type":"nominal"}}},
{"data":{"name":"D"},"mark":{"type":"point","filled":true,"size":45,"opacity":0.95},"encoding":{"color":{"datum":"Defect","scale":{"range":["#cc1414"]},"legend":{"title":null,"orient":"none","legendX":254.5,"legendY":4,"padding":0,"labelFont":"Liberation Serif","labelFontSize":12.5,"labelColor":"#222222","symbolSize":30,"labelOffset":15}}}}
]}
]}
]}
]}
]
}
